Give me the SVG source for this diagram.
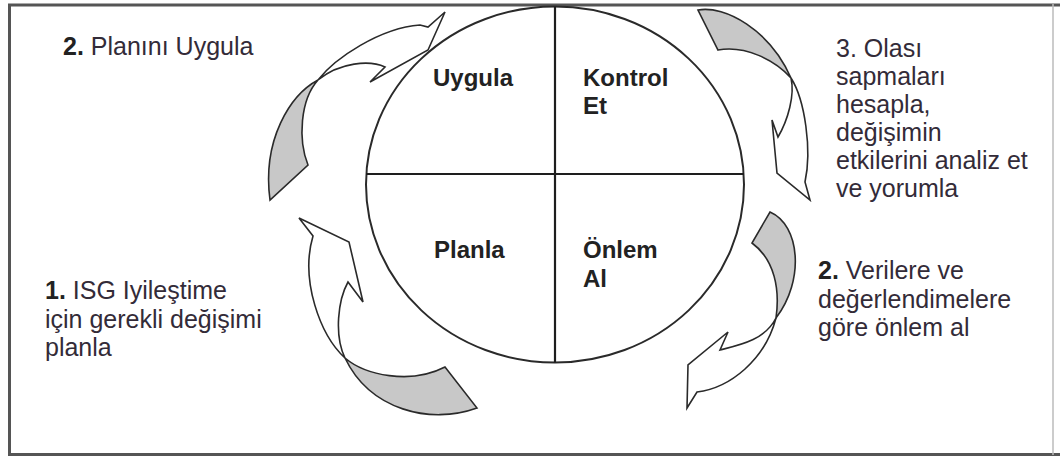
<svg xmlns="http://www.w3.org/2000/svg" width="1060" height="456" viewBox="0 0 1060 456">
<style>
.frame{stroke:#555;stroke-width:3;fill:none}
.arr{fill:#fff;stroke:#2a2a2a;stroke-width:1.6;stroke-linejoin:miter}
.tail{fill:#c8c8c8;stroke:#2a2a2a;stroke-width:1.6}
.ring{fill:#fff;stroke:#2a2a2a;stroke-width:2}
.div{stroke:#1e1e1e;stroke-width:2.2}
.in{font-family:"Liberation Sans",Arial,sans-serif;font-size:24px;font-weight:bold;fill:#222}
.out{font-family:"Liberation Sans",Arial,sans-serif;font-size:25px;fill:#332b38}
.num{font-weight:bold;fill:#222}
</style>
<rect width="1060" height="456" fill="#fff"/>
<g id="frame">
<line class="frame" x1="8" y1="5" x2="1060" y2="5"/>
<line class="frame" x1="9.5" y1="4" x2="9.5" y2="455"/>
<line class="frame" x1="8" y1="454.5" x2="1060" y2="454.5"/>
<line x1="1053" y1="4" x2="1053" y2="455" stroke="#bbb" stroke-width="1.5"/>
</g>
<g id="cycle">
<ellipse class="ring" cx="555" cy="184.5" rx="189" ry="178"/>
<line class="div" x1="555" y1="6.5" x2="555" y2="362.5"/>
<line class="div" x1="366" y1="174" x2="744" y2="174"/>
</g>
<g id="connectors">
<g id="arrow-plan">
<path class="arr" d="M345,358 C320,335 300,280 313,236 L299,218 L349,242 L363,302 L348,282 C338,300 334,335 345,358 Z"/>
<path class="tail" d="M345,358 C365,375 410,385 445,367 L477,408 C430,425 370,410 345,358 Z"/>
</g>
<g id="arrow-do">
<path class="arr" d="M318,80 C335,58 380,28 420,25 L428,27 L445,12 L428,50 L370,82 L385,67 C370,60 340,62 318,80 Z"/>
<path class="tail" d="M318,80 C290,95 262,140 270,200 L308,165 C298,140 300,100 318,80 Z"/>
</g>
<g id="arrow-check">
<path class="tail" d="M698,10 C725,5 770,30 791,78 C775,60 745,45 718,50 Z"/>
<path class="arr" d="M791,78 C805,100 812,150 805,182 L810,200 L777,173 L772,120 L778,137 C788,120 795,95 791,78 Z"/>
</g>
<g id="arrow-act">
<path class="tail" d="M770,212 C800,225 805,280 776,318 C780,290 775,260 752,243 Z"/>
<path class="arr" d="M776,318 C765,360 730,388 697,392 L687,408 L688,365 L728,332 L720,350 C740,345 765,340 776,318 Z"/>
</g>
</g>
<g id="q-uygula"><text class="in" x="433" y="86">Uygula</text></g>
<g id="q-kontrol"><text class="in" x="583" y="86">Kontrol</text><text class="in" x="583" y="114">Et</text></g>
<g id="q-planla"><text class="in" x="434" y="258">Planla</text></g>
<g id="q-onlem"><text class="in" x="583" y="258">Önlem</text><text class="in" x="583" y="287">Al</text></g>
<g id="label-do"><text class="out" x="63" y="55"><tspan class="num">2.</tspan> Planını Uygula</text></g>
<g id="label-plan">
<text class="out" x="45" y="299"><tspan class="num">1.</tspan> ISG Iyileştime</text>
<text class="out" x="45" y="328">için gerekli değişimi</text>
<text class="out" x="45" y="356">planla</text>
</g>
<g id="label-check">
<text class="out" x="836" y="57">3. Olası</text>
<text class="out" x="836" y="85">sapmaları</text>
<text class="out" x="836" y="113">hesapla,</text>
<text class="out" x="836" y="141">değişimin</text>
<text class="out" x="836" y="169">etkilerini analiz et</text>
<text class="out" x="836" y="197">ve yorumla</text>
</g>
<g id="label-act">
<text class="out" x="818" y="279"><tspan class="num">2.</tspan> Verilere ve</text>
<text class="out" x="818" y="308">değerlendimelere</text>
<text class="out" x="818" y="336">göre önlem al</text>
</g>
</svg>
